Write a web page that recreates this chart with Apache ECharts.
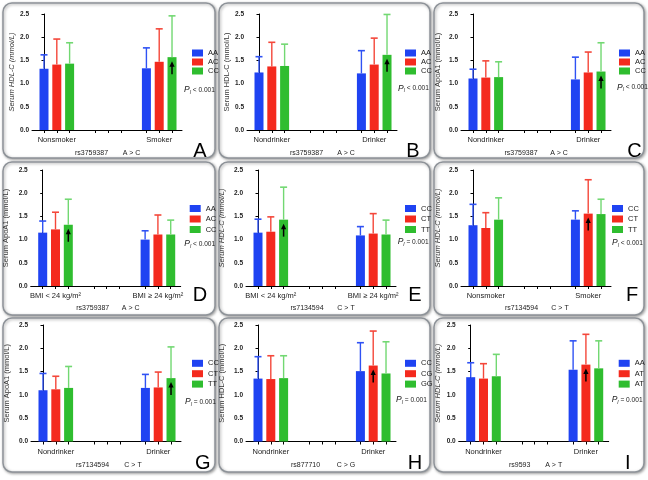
<!DOCTYPE html>
<html><head><meta charset="utf-8">
<script src="https://cdn.jsdelivr.net/npm/echarts@6/dist/echarts.min.js"></script>
<style>html,body{margin:0;padding:0;background:#fff}#c{width:648px;height:480px}</style>
</head><body><div id="c"></div>
<script>
// ---------------- DATA ----------------
// means / upper error-bar ends: first three = group 1 (genotype order), last three = group 2
const A_groups = ['Nonsmoker', 'Smoker'];
const A_genotypes = ['AA', 'AC', 'CC'];
const A_mean = [1.32, 1.41, 1.43, 1.33, 1.47, 1.57];
const A_upper = [1.62, 1.96, 1.88, 1.77, 2.18, 2.46];
const A_arrow = [1, 2];
const A_yTitle = 'Serum HDL-C (mmol/L)';
const A_snp = 'rs3759387', A_allele = 'A > C', A_p = '< 0.001';

const B_groups = ['Nondrinker', 'Drinker'];
const B_genotypes = ['AA', 'AC', 'CC'];
const B_mean = [1.24, 1.37, 1.38, 1.22, 1.41, 1.62];
const B_upper = [1.58, 1.89, 1.85, 1.71, 1.98, 2.49];
const B_arrow = [1, 2];
const B_yTitle = 'Serum HDL-C (mmol/L)';
const B_snp = 'rs3759387', B_allele = 'A > C', B_p = '< 0.001';

const C_groups = ['Nondrinker', 'Drinker'];
const C_genotypes = ['AA', 'AC', 'CC'];
const C_mean = [1.11, 1.13, 1.14, 1.09, 1.24, 1.26];
const C_upper = [1.31, 1.49, 1.47, 1.57, 1.68, 1.88];
const C_arrow = [1, 2];
const C_yTitle = 'Serum ApoA1 (mmol/L)';
const C_snp = 'rs3759387', C_allele = 'A > C', C_p = '< 0.001';

const D_groups = ['BMI < 24 kg/m\u00b2', 'BMI \u2265 24 kg/m\u00b2'];
const D_genotypes = ['AA', 'AC', 'CC'];
const D_mean = [1.15, 1.22, 1.32, 1.00, 1.11, 1.11];
const D_upper = [1.40, 1.59, 1.87, 1.19, 1.53, 1.42];
const D_arrow = [0, 2];
const D_yTitle = 'Serum ApoA1 (mmol/L)';
const D_snp = 'rs3759387', D_allele = 'A > C', D_p = '< 0.001';

const E_groups = ['BMI < 24 kg/m\u00b2', 'BMI \u2265 24 kg/m\u00b2'];
const E_genotypes = ['CC', 'CT', 'TT'];
const E_mean = [1.15, 1.17, 1.43, 1.09, 1.13, 1.11];
const E_upper = [1.44, 1.49, 2.13, 1.28, 1.56, 1.42];
const E_arrow = [0, 2];
const E_yTitle = 'Serum HDL-C (mmol/L)';
const E_snp = 'rs7134594', E_allele = 'C > T', E_p = '= 0.001';

const F_groups = ['Nonsmoker', 'Smoker'];
const F_genotypes = ['CC', 'CT', 'TT'];
const F_mean = [1.31, 1.25, 1.43, 1.43, 1.56, 1.55];
const F_upper = [1.76, 1.58, 1.90, 1.62, 2.29, 1.87];
const F_arrow = [1, 1];
const F_yTitle = 'Serum HDL-C (mmol/L)';
const F_snp = 'rs7134594', F_allele = 'C > T', F_p = '< 0.001';

const G_groups = ['Nondrinker', 'Drinker'];
const G_genotypes = ['CC', 'CT', 'TT'];
const G_mean = [1.10, 1.12, 1.15, 1.15, 1.16, 1.36];
const G_upper = [1.46, 1.40, 1.61, 1.44, 1.49, 2.03];
const G_arrow = [1, 2];
const G_yTitle = 'Serum ApoA1 (mmol/L)';
const G_snp = 'rs7134594', G_allele = 'C > T', G_p = '= 0.001';

const H_groups = ['Nondrinker', 'Drinker'];
const H_genotypes = ['CC', 'CG', 'GG'];
const H_mean = [1.35, 1.34, 1.36, 1.51, 1.63, 1.46];
const H_upper = [1.82, 1.84, 1.84, 2.12, 2.37, 2.14];
const H_arrow = [1, 1];
const H_yTitle = 'Serum HDL-C (mmol/L)';
const H_snp = 'rs877710', H_allele = 'C > G', H_p = '= 0.001';

const I_groups = ['Nondrinker', 'Drinker'];
const I_genotypes = ['AA', 'AT', 'AT'];
const I_mean = [1.38, 1.35, 1.40, 1.54, 1.65, 1.57];
const I_upper = [1.69, 1.67, 1.87, 2.16, 2.30, 2.16];
const I_arrow = [1, 1];
const I_yTitle = 'Serum HDL-C (mmol/L)';
const I_snp = 'rs9593', I_allele = 'A > T', I_p = '= 0.001';

const PANELS = [
  {id:'A', groups:A_groups, geno:A_genotypes, mean:A_mean, upper:A_upper, arrow:A_arrow, yTitle:A_yTitle, snp:A_snp, allele:A_allele, p:A_p},
  {id:'B', groups:B_groups, geno:B_genotypes, mean:B_mean, upper:B_upper, arrow:B_arrow, yTitle:B_yTitle, snp:B_snp, allele:B_allele, p:B_p},
  {id:'C', groups:C_groups, geno:C_genotypes, mean:C_mean, upper:C_upper, arrow:C_arrow, yTitle:C_yTitle, snp:C_snp, allele:C_allele, p:C_p},
  {id:'D', groups:D_groups, geno:D_genotypes, mean:D_mean, upper:D_upper, arrow:D_arrow, yTitle:D_yTitle, snp:D_snp, allele:D_allele, p:D_p},
  {id:'E', groups:E_groups, geno:E_genotypes, mean:E_mean, upper:E_upper, arrow:E_arrow, yTitle:E_yTitle, snp:E_snp, allele:E_allele, p:E_p},
  {id:'F', groups:F_groups, geno:F_genotypes, mean:F_mean, upper:F_upper, arrow:F_arrow, yTitle:F_yTitle, snp:F_snp, allele:F_allele, p:F_p},
  {id:'G', groups:G_groups, geno:G_genotypes, mean:G_mean, upper:G_upper, arrow:G_arrow, yTitle:G_yTitle, snp:G_snp, allele:G_allele, p:G_p},
  {id:'H', groups:H_groups, geno:H_genotypes, mean:H_mean, upper:H_upper, arrow:H_arrow, yTitle:H_yTitle, snp:H_snp, allele:H_allele, p:H_p},
  {id:'I', groups:I_groups, geno:I_genotypes, mean:I_mean, upper:I_upper, arrow:I_arrow, yTitle:I_yTitle, snp:I_snp, allele:I_allele, p:I_p}
];

// ---------------- LAYOUT / STYLE ----------------
const FONT = '"Liberation Sans", Arial, sans-serif';
const COLORS = ['#1f43f2', '#f42a1e', '#2fbd2f'];
const ERR_COLORS = ['#2f52f4', '#f4473a', '#72d872'];
const SLOT_TICKS = [0, 1, 2, 4, 5, 6, 8, 9, 10];
const COLS = [[3, 215], [219, 430], [434, 644]];
const ROWS = [
  {box:[3, 158], top:14, h:116, legY:39, legStep:9, footY:22.7, letY:21.7},
  {box:[162, 315], top:170, h:116, legY:38.5, legStep:10.5, footY:21.6, letY:9.5},
  {box:[318, 472], top:325, h:116.5, legY:38.3, legStep:10.4, footY:24, letY:21.5}
];
const LAY = {
  A:{ax:32,    gap:16,   it:true,  legX:160, pX:152,   pY:76,   letX:168,   rsX:59.5, alX:99.5},
  B:{ax:247,   gap:16.5, it:false, legX:158, pX:151,   pY:74.3, letX:166,   rsX:59.5, alX:99},
  C:{ax:461,   gap:19,   it:false, legX:158, pX:156,   pY:73.3, letX:173.5, rsX:60,   alX:98},
  D:{ax:30.7,  gap:20.5, it:false, legX:159, pX:153.6, pY:74,   letX:169.3, rsX:62,   alX:100},
  E:{ax:246,   gap:20,   it:true,  legX:159, pX:151.7, pY:71.7, letX:169,   rsX:61,   alX:100},
  F:{ax:461,   gap:19.5, it:true,  legX:151, pX:151,   pY:72.7, letX:171,   rsX:60.5, alX:99},
  G:{ax:31,    gap:20.5, it:false, legX:161, pX:154,   pY:76.7, letX:171.7, rsX:61.5, alX:102},
  H:{ax:246,   gap:20,   it:false, legX:159, pX:150,   pY:75,   letX:169,   rsX:59.5, alX:100},
  I:{ax:458.7, gap:17,   it:true,  legX:160, pX:153,   pY:75,   letX:169,   rsX:61,   alX:95}
};
const X_MIN = -0.9375, X_MAX = 10.78, PLOT_W = 150;

const grids = [], xAxes = [], yAxes = [], series = [], legends = [], graphics = [];

PANELS.forEach((P, i) => {
  const L = LAY[P.id];
  const R = ROWS[Math.floor(i / 3)];
  const col = COLS[i % 3];
  const zero = R.top + R.h;

  graphics.push({
    type:'rect', z:-10,
    shape:{x:col[0], y:R.box[0], width:col[1]-col[0], height:R.box[1]-R.box[0], r:9},
    style:{fill:'#fff', stroke:'#8e9399', lineWidth:1.5, shadowBlur:3, shadowColor:'rgba(0,0,0,0.35)', shadowOffsetX:1, shadowOffsetY:1}
  });

  grids.push({left:L.ax, top:R.top, width:PLOT_W, height:R.h, containLabel:false});
  xAxes.push({
    gridIndex:i, type:'value', min:X_MIN, max:X_MAX,
    axisLine:{show:true, lineStyle:{color:'#000', width:1}},
    axisTick:{show:true, customValues:SLOT_TICKS, length:3, lineStyle:{color:'#000', width:1}},
    axisLabel:{show:true, customValues:[1, 9], formatter:v => (v < 5 ? P.groups[0] : P.groups[1]),
      margin:6, fontSize:7.5, color:'#1a1a1a', fontFamily:FONT},
    splitLine:{show:false}
  });
  yAxes.push({
    gridIndex:i, type:'value', min:0, max:2.5, interval:0.5,
    axisLine:{show:true, lineStyle:{color:'#000', width:1}},
    axisTick:{show:true, length:2.5, lineStyle:{color:'#000'}},
    axisLabel:{formatter:v => v.toFixed(1), fontSize:6.5, fontWeight:'bold', color:'#222', margin:3, fontFamily:FONT},
    splitLine:{show:false},
    name:P.yTitle, nameLocation:'middle', nameGap:L.gap, nameRotate:90,
    nameTextStyle:{fontSize:7.5, color:'#333', fontStyle:L.it ? 'italic' : 'normal', fontFamily:FONT}
  });

  const names = [];
  for (let k = 0; k < 3; k++) {
    const nm = P.id + '|' + k;
    names.push(nm);
    series.push({
      type:'bar', name:nm, xAxisIndex:i, yAxisIndex:i, barWidth:9, barGap:'-100%',
      itemStyle:{color:COLORS[k]}, silent:true,
      data:[[k, P.mean[k]], [8 + k, P.mean[3 + k]]]
    });
  }
  const errData = [];
  for (let g = 0; g < 2; g++) for (let k = 0; k < 3; k++)
    errData.push([g * 8 + k, P.mean[g * 3 + k], P.upper[g * 3 + k], k]);
  series.push({
    type:'custom', xAxisIndex:i, yAxisIndex:i, z:3, silent:true,
    encode:{x:0, y:[1, 2]}, data:errData,
    renderItem:(params, api) => {
      const x = api.value(0), m = api.value(1), u = api.value(2), k = api.value(3);
      const p0 = api.coord([x, m]), p1 = api.coord([x, u]);
      const c = ERR_COLORS[k];
      const cx = p0[0];
      return {type:'group', children:[
        {type:'line', shape:{x1:cx, y1:p0[1], x2:cx, y2:p1[1]}, style:{stroke:c, lineWidth:1.4}},
        {type:'line', shape:{x1:cx - 3.5, y1:p1[1], x2:cx + 3.5, y2:p1[1]}, style:{stroke:c, lineWidth:1.6}}
      ]};
    }
  });
  const ag = P.arrow[0], ak = P.arrow[1];
  series.push({
    type:'custom', xAxisIndex:i, yAxisIndex:i, z:4, silent:true,
    encode:{x:0, y:1}, data:[[ag * 8 + ak, P.mean[ag * 3 + ak]]],
    renderItem:(params, api) => {
      const p = api.coord([api.value(0), api.value(1)]);
      const x = p[0], y = p[1];
      return {type:'group', children:[
        {type:'line', shape:{x1:x, y1:y + 17, x2:x, y2:y + 8}, style:{stroke:'#000', lineWidth:1.5}},
        {type:'polygon', shape:{points:[[x, y + 4], [x - 2.6, y + 9.5], [x + 2.6, y + 9.5]]}, style:{fill:'#000'}}
      ]};
    }
  });

  legends.push({
    data:names, orient:'vertical', left:L.ax + L.legX, top:R.top + R.legY - 4,
    icon:'rect', itemWidth:11, itemHeight:7, itemGap:R.legStep - 8, padding:0, selectedMode:false,
    formatter:nm => P.geno[+nm.split('|')[1]],
    textStyle:{fontSize:7.5, lineHeight:8, color:'#1a1a1a', fontFamily:FONT}
  });

  graphics.push({type:'text', z:10, style:{
    text:'{p|P}{s|l}{t| ' + P.p + '}', x:L.ax + L.pX, y:R.top + L.pY, align:'left', verticalAlign:'middle',
    fontFamily:FONT, fill:'#1a1a1a',
    rich:{
      p:{fontSize:8.5, fontStyle:'italic', fontFamily:FONT, fill:'#1a1a1a'},
      s:{fontSize:5.5, fontStyle:'italic', fontFamily:FONT, fill:'#1a1a1a', padding:[5, 0, 0, 0]},
      t:{fontSize:6.6, fontFamily:FONT, fill:'#1a1a1a'}
    }
  }});
  graphics.push({type:'text', z:10, style:{text:P.snp, x:L.ax + L.rsX, y:zero + R.footY, align:'center', verticalAlign:'middle', fontSize:7, fontFamily:FONT, fill:'#1a1a1a'}});
  graphics.push({type:'text', z:10, style:{text:P.allele, x:L.ax + L.alX, y:zero + R.footY, align:'center', verticalAlign:'middle', fontSize:7, fontFamily:FONT, fill:'#1a1a1a'}});
  graphics.push({type:'text', z:10, style:{text:P.id, x:L.ax + L.letX, y:zero + R.letY, align:'center', verticalAlign:'middle', fontSize:20, fontFamily:FONT, fill:'#000'}});
});

const chart = echarts.init(document.getElementById('c'), null, {renderer:'canvas'});
chart.setOption({
  backgroundColor:'#fff', animation:false,
  grid:grids, xAxis:xAxes, yAxis:yAxes, legend:legends, series:series,
  graphic:{elements:graphics}
});
</script></body></html>
